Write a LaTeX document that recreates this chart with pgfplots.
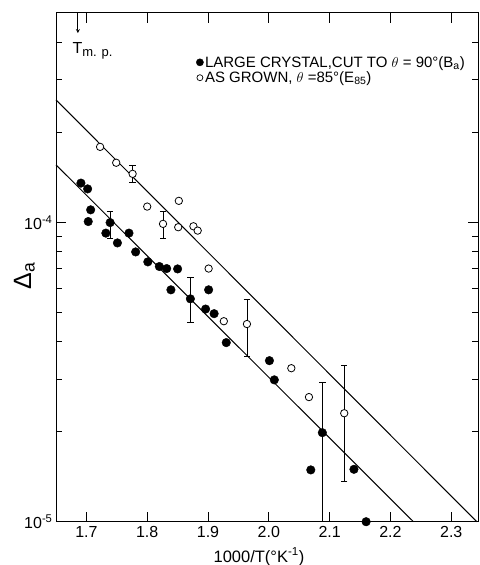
\documentclass[border=0pt]{standalone}
\usepackage{fontspec}
\setmainfont{Liberation Sans}
\usepackage{pgfplots}
\pgfplotsset{compat=1.18}

% Filled points: large crystal cut to theta = 90 deg (B_a)
\pgfplotstableread{
x      y
1.691  1.355e-4
1.702  1.296e-4
1.707  1.103e-4
1.703  1.008e-4
1.739  1.000e-4
1.732  9.22e-5
1.751  8.55e-5
1.770  9.22e-5
1.781  7.98e-5
1.801  7.39e-5
1.820  7.13e-5
1.832  7.02e-5
1.850  7.00e-5
1.839  5.96e-5
1.871  5.56e-5
1.901  5.96e-5
1.896  5.14e-5
1.910  4.96e-5
1.930  3.97e-5
2.001  3.455e-5
2.009  2.98e-5
2.069  1.49e-5
2.088  1.985e-5
2.140  1.497e-5
2.160  1.00e-5
}\largecrystal

% Open points: as grown, theta = 85 deg (E_85)
\pgfplotstableread{
x      y
1.7225 1.791e-4
1.749  1.585e-4
1.776  1.455e-4
1.800  1.131e-4
1.852  1.182e-4
1.826  0.990e-4
1.851  9.65e-5
1.876  9.72e-5
1.883  9.40e-5
1.901  7.02e-5
1.926  4.68e-5
1.964  4.58e-5
2.037  3.26e-5
2.066  2.61e-5
2.124  2.305e-5
}\asgrown

\begin{document}
\begin{tikzpicture}
\begin{axis}[
  scale only axis,
  width=422pt, height=509pt,
  xmin=1.65, xmax=2.344,
  ymode=log, ymin=1e-5, ymax=5.03e-4,
  clip=false,
  axis line style={line width=0.9pt},
  every tick/.style={black, line width=0.9pt},
  tick align=inside,
  tick pos=both,
  major tick length=10pt,
  minor tick length=6pt,
  xtick={1.7,1.8,1.9,2.0,2.1,2.2,2.3},
  xticklabels={1.7,1.8,1.9,2.0,2.1,2.2,2.3},
  minor xtick={},
  ytick={1e-5,1e-4},
  yticklabels={10\textsuperscript{-5},10\textsuperscript{-4}},
  minor ytick={2e-5,3e-5,4e-5,5e-5,6e-5,7e-5,8e-5,9e-5,2e-4,3e-4,4e-4},
  ticklabel style={font=\fontsize{16}{16}\selectfont},
  xticklabel style={yshift=-1pt},
  xlabel={1000/T(°K\textsuperscript{-1})},
  xlabel style={at={(axis description cs:0.481,-0.069)}, anchor=center,
                font=\fontsize{16.5}{16.5}\selectfont},
  ylabel={Δ\textsubscript{a}},
  ylabel style={at={(axis description cs:-0.075,0.483)}, anchor=center,
                font=\fontsize{25}{25}\selectfont},
  legend style={draw=none, fill=none, at={(axis description cs:0.332,0.918)},
                anchor=north west, font=\fontsize{15}{18}\selectfont,
                row sep=0pt, inner sep=0pt,
                nodes={inner sep=1.5pt}},
  legend cell align=left,
  legend image code/.code={\draw[#1] plot coordinates {(0pt,0pt)};},
]

\addlegendimage{only marks, mark=*, mark size=3.6pt, black}
\addlegendentry{LARGE CRYSTAL,CUT TO $\theta$ = 90°(B\textsubscript{a})}
\addlegendimage{only marks, mark=*, mark size=3.0pt, mark options={fill=white, draw=black, line width=0.7pt}}
\addlegendentry{AS GROWN, $\theta$ =85°(E\textsubscript{85})}

% least-squares lines
\addplot[black, line width=1pt, forget plot] coordinates {(1.65,2.572e-4) (2.342,1e-5)};
\addplot[black, line width=1pt, forget plot] coordinates {(1.65,1.56e-4) (2.2378,1e-5)};

% error bars
\addplot[only marks, mark=none, black, forget plot,
  error bars/.cd, y dir=both, y explicit,
  error bar style={line width=0.8pt}, error mark options={rotate=90, mark size=3.2pt, line width=0.8pt}]
  coordinates {
    (1.739,1.000e-4) += (0,0.094e-4) -= (0,0.113e-4)
    (1.871,5.56e-5)  += (0,0.99e-5)  -= (0,0.93e-5)
    (2.088,1.985e-5) += (0,0.935e-5) -= (0,0.985e-5)
    (1.776,1.455e-4) += (0,0.092e-4) -= (0,0.090e-4)
    (1.826,0.990e-4) += (0,0.098e-4) -= (0,0.103e-4)
    (1.964,4.58e-5)  += (0,0.96e-5)  -= (0,1.00e-5)
    (2.124,2.305e-5) += (0,1.015e-5) -= (0,0.937e-5)
  };

\addplot[only marks, mark=*, mark size=4.3pt, black, forget plot] table[x=x, y=y] {\largecrystal};
\addplot[only marks, mark=*, mark size=3.7pt, forget plot,
  mark options={fill=white, draw=black, line width=0.8pt}] table[x=x, y=y] {\asgrown};

% melting point marker
\draw[->, >=stealth, line width=0.8pt] (axis cs:1.686,5.03e-4) -- (axis cs:1.686,4.3e-4);
\node[anchor=north west, inner sep=0pt, font=\fontsize{16}{16}\selectfont]
  at (axis cs:1.677,4.02e-4) {T\raisebox{-3pt}{\fontsize{13}{13}\selectfont m. p.}};
\end{axis}
\pgfresetboundingbox
\path ([shift={(-56pt,-43.3pt)}]current axis.south west)
  rectangle ([shift={(1pt,12.7pt)}]current axis.north east);
\end{tikzpicture}
\end{document}
